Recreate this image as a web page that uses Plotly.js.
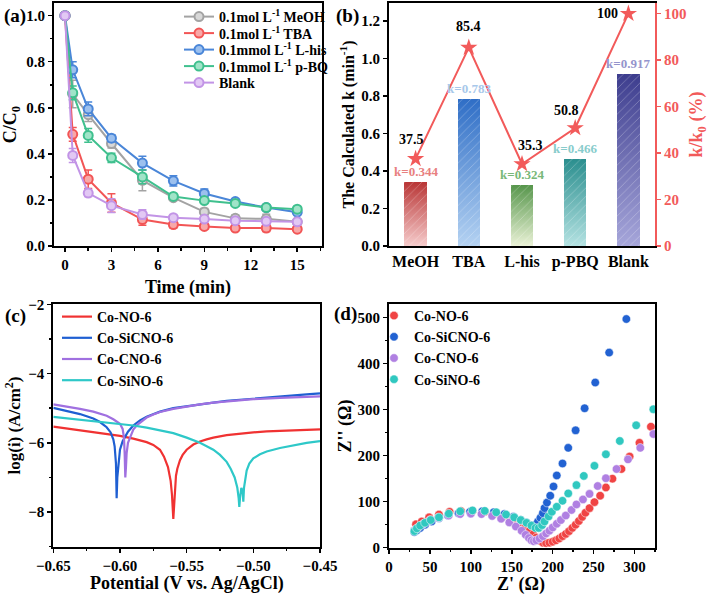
<!DOCTYPE html>
<html><head><meta charset="utf-8">
<script src="https://cdn.plot.ly/plotly-3.0.1.min.js"></script>
<style>html,body{margin:0;padding:0;background:#fff}#chart{width:709px;height:594px}</style>
</head><body><div id="chart"></div>
<script>
// ---------- Panel (a) data ----------
const timeMin = [0, 0.5, 1.5, 3, 5, 7, 9, 11, 13, 15];
const aNames = ['0.1mol L<sup>-1</sup> MeOH', '0.1mol L<sup>-1</sup> TBA', '0.1mmol L<sup>-1</sup> L-his', '0.1mmol L<sup>-1</sup> p-BQ', 'Blank'];
const cMeOH = [1.0, 0.66, 0.57, 0.445, 0.285, 0.21, 0.148, 0.12, 0.118, 0.105];
const eMeOH = [0, 0.06, 0.03, 0.02, 0.045, 0.01, 0.015, 0.015, 0.02, 0.01];
const cTBA = [1.0, 0.485, 0.29, 0.187, 0.115, 0.093, 0.085, 0.078, 0.078, 0.073];
const eTBA = [0, 0.03, 0.04, 0.04, 0.025, 0.015, 0.012, 0.01, 0.015, 0.01];
const cLhis = [1.0, 0.765, 0.595, 0.468, 0.36, 0.283, 0.228, 0.193, 0.167, 0.147];
const eLhis = [0, 0.035, 0.03, 0.015, 0.03, 0.022, 0.02, 0.01, 0.01, 0.01];
const cPBQ = [1.0, 0.665, 0.48, 0.383, 0.30, 0.215, 0.197, 0.185, 0.167, 0.16];
const ePBQ = [0, 0.03, 0.03, 0.02, 0.03, 0.01, 0.01, 0.01, 0.01, 0.01];
const cBlank = [1.0, 0.393, 0.23, 0.175, 0.137, 0.123, 0.117, 0.11, 0.107, 0.105];
const eBlank = [0, 0.03, 0.015, 0.03, 0.02, 0.01, 0.01, 0.01, 0.01, 0.01];
const aColors = ['#a3a3a3', '#f25555', '#4a86d8', '#3fc08e', '#c294e6'];
const aFill = ['#d8d8d8', '#f8a8a8', '#9cc0ee', '#a0e4c8', '#e2c8f4'];

// ---------- Panel (b) data ----------
const bCats = ['MeOH', 'TBA', 'L-his', 'p-PBQ', 'Blank'];
const kValues = [0.344, 0.783, 0.324, 0.466, 0.917];
const kRatio = [37.5, 85.4, 35.3, 50.8, 100];
const kLabels = ['k=0.344', 'k=0.783', 'k=0.324', 'k=0.466', 'k=0.917'];
const ratioLabels = ['37.5', '85.4', '35.3', '50.8', '100'];
const barTop = ['#b83434', '#2f6ec6', '#57964c', '#2a8e8e', '#3d3d8e'];
const barBottom = ['#f6cccc', '#b4d2f2', '#eaf2d6', '#b4e2e2', '#a6a6da'];
const barMid = ['#d87878', '#6f9edc', '#9cc48c', '#6cbaba', '#7070b8'];
const kLabelColors = ['#e88080', '#a8c8ea', '#78b878', '#88cccc', '#9494cc'];

// ---------- Panel (c) data ----------
const cNames = ['Co-NO-6', 'Co-SiCNO-6', 'Co-CNO-6', 'Co-SiNO-6'];
const cColors = ['#f03232', '#1f5fd2', '#a070e0', '#2ec8c8'];
const vNO = [-0.65,-0.64,-0.63,-0.62,-0.61,-0.60,-0.59,-0.58,-0.575,-0.57,-0.567,-0.564,-0.562,-0.561,-0.560,-0.5595,-0.559,-0.558,-0.557,-0.555,-0.553,-0.55,-0.545,-0.54,-0.535,-0.53,-0.52,-0.51,-0.50,-0.49,-0.48,-0.47,-0.46,-0.45];
const iNO = [-5.53,-5.58,-5.63,-5.68,-5.74,-5.80,-5.88,-5.98,-6.06,-6.2,-6.4,-6.7,-7.1,-7.5,-8.2,-7.8,-7.3,-6.95,-6.75,-6.5,-6.35,-6.2,-6.05,-5.96,-5.9,-5.85,-5.78,-5.73,-5.70,-5.67,-5.65,-5.63,-5.62,-5.61];
const vSiCNO = [-0.65,-0.64,-0.63,-0.62,-0.615,-0.61,-0.607,-0.605,-0.604,-0.603,-0.6025,-0.602,-0.601,-0.600,-0.598,-0.596,-0.594,-0.59,-0.585,-0.58,-0.57,-0.56,-0.55,-0.54,-0.53,-0.52,-0.50,-0.48,-0.46,-0.45];
const iSiCNO = [-4.99,-5.07,-5.17,-5.3,-5.4,-5.55,-5.7,-5.9,-6.1,-6.6,-7.6,-7.0,-6.5,-6.2,-5.95,-5.8,-5.68,-5.5,-5.35,-5.25,-5.1,-5.0,-4.94,-4.89,-4.84,-4.79,-4.72,-4.66,-4.6,-4.57];
const vCNO = [-0.65,-0.64,-0.63,-0.62,-0.61,-0.605,-0.60,-0.598,-0.597,-0.5965,-0.596,-0.5955,-0.595,-0.594,-0.592,-0.59,-0.587,-0.583,-0.58,-0.575,-0.57,-0.56,-0.55,-0.54,-0.53,-0.52,-0.50,-0.48,-0.46,-0.45];
const iCNO = [-4.89,-4.95,-5.02,-5.1,-5.22,-5.32,-5.45,-5.6,-5.85,-6.3,-7.0,-6.7,-6.3,-6.0,-5.78,-5.62,-5.48,-5.35,-5.27,-5.18,-5.11,-5.02,-4.95,-4.89,-4.84,-4.8,-4.74,-4.7,-4.67,-4.66];
const vSiNO = [-0.65,-0.64,-0.63,-0.62,-0.61,-0.60,-0.59,-0.58,-0.57,-0.56,-0.55,-0.54,-0.53,-0.525,-0.52,-0.517,-0.514,-0.512,-0.511,-0.5105,-0.51,-0.509,-0.508,-0.5075,-0.507,-0.506,-0.505,-0.503,-0.50,-0.495,-0.49,-0.48,-0.47,-0.46,-0.45];
const iSiNO = [-5.25,-5.29,-5.33,-5.37,-5.41,-5.45,-5.5,-5.56,-5.63,-5.72,-5.85,-6.0,-6.2,-6.35,-6.55,-6.75,-7.0,-7.3,-7.6,-7.85,-7.6,-7.3,-7.4,-7.7,-7.3,-7.0,-6.8,-6.6,-6.45,-6.33,-6.25,-6.15,-6.07,-6.0,-5.95];

// ---------- Panel (d) data ----------
const dColors = ['#f04444', '#2262d2', '#b080e2', '#30c8c0'];
const zreNO = [33,40,49,61,74,88,102,117,130,142,153,161,167,172,176,180,184,188,192,196,200,204,208,212,216,220,224,228,232,236,240,245,251,258,265,273,284,294,306,320];
const zimNO = [51,57,66,72,78,80,80,78,75,70,63,55,46,37,29,22,15,11,10,11,13,16,20,25,30,36,43,50,58,67,76,86,99,113,131,150,171,198,228,263];
const zreSiCNO = [31,34,38,44,52,61,72,85,99,114,128,141,152,161,168,174,177,179,182,185,188,190,193,197,201,205,212,219,228,239,252,269,290];
const zimSiCNO = [34,38,43,50,57,64,70,75,78,79,77,73,67,60,54,49,47,50,57,65,75,86,98,113,133,157,183,217,255,303,359,424,497];
const zreCNO = [31,35,42,50,60,73,87,100,113,126,137,147,155,162,167,171,174,177,180,184,188,192,196,200,205,210,216,223,229,237,245,255,265,278,292,307,323];
const zimCNO = [38,43,52,60,65,70,73,74,73,69,63,55,46,37,28,21,16,14,16,20,25,31,37,44,52,60,70,82,94,105,117,134,151,171,192,217,247];
const zreSiNO = [31,34,38,44,51,61,73,87,102,117,131,143,153,161,168,174,179,183,187,190,195,199,205,212,219,229,238,251,265,282,302,323];
const zimSiNO = [36,42,48,54,60,66,74,79,81,80,77,72,66,60,54,48,43,43,49,57,68,78,89,102,118,136,156,178,203,232,266,301];

// ---------- Build ----------
const F = '"Liberation Serif", "Times New Roman", serif';
const tf = (s, c) => ({family: F, size: s, weight: 'bold', color: c || '#000'});
const traces = [];

const aSeries = [[cMeOH, eMeOH], [cTBA, eTBA], [cLhis, eLhis], [cPBQ, ePBQ], [cBlank, eBlank]];
aSeries.forEach((s, i) => {
  traces.push({
    x: timeMin, y: s[0], name: aNames[i], type: 'scatter', mode: 'lines+markers',
    xaxis: 'x', yaxis: 'y', legend: 'legend',
    line: {color: aColors[i], width: 2},
    marker: {symbol: 'circle', size: 9, color: aFill[i], line: {color: aColors[i], width: 2}},
    error_y: {type: 'data', array: s[1], visible: true, color: aColors[i], thickness: 1.5, width: 4}
  });
});
traces.push({x: bCats, y: kValues, type: 'bar', xaxis: 'x2', yaxis: 'y2', width: 0.42,
  marker: {color: barMid, line: {width: 0}}, showlegend: false, hoverinfo: 'skip'});
traces.push({x: bCats, y: kValues, type: 'bar', xaxis: 'x2', yaxis: 'y2', width: 0.42,
  marker: {color: 'rgba(0,0,0,0)', line: {width: 0},
    pattern: {shape: '/', fgcolor: 'rgba(255,255,255,0.55)', bgcolor: 'rgba(0,0,0,0)', size: 6, solidity: 0.15, fillmode: 'overlay'}},
  showlegend: false});
traces.push({x: bCats, y: kRatio, type: 'scatter', mode: 'lines+markers', xaxis: 'x2', yaxis: 'y3',
  line: {color: '#f25a5a', width: 2}, marker: {symbol: 'star', size: 13, color: '#f25a5a'}, showlegend: false});

const cSeries = [[vNO, iNO], [vSiCNO, iSiCNO], [vCNO, iCNO], [vSiNO, iSiNO]];
cSeries.forEach((s, i) => {
  traces.push({x: s[0], y: s[1], name: cNames[i], type: 'scatter', mode: 'lines',
    xaxis: 'x4', yaxis: 'y4', legend: 'legend2', line: {color: cColors[i], width: 2.2}});
});
const dSeries = [[zreNO, zimNO], [zreSiCNO, zimSiCNO], [zreCNO, zimCNO], [zreSiNO, zimSiNO]];
dSeries.forEach((s, i) => {
  traces.push({x: s[0], y: s[1], name: cNames[i], type: 'scatter', mode: 'markers',
    xaxis: 'x5', yaxis: 'y5', legend: 'legend3',
    marker: {symbol: 'circle', size: 8.5, color: dColors[i], line: {color: 'rgba(255,255,255,0.5)', width: 1}}});
});

const ax = (extra) => Object.assign({
  showline: true, linewidth: 2, linecolor: '#000', mirror: true,
  ticks: 'outside', ticklen: 4, tickwidth: 1.5, tickcolor: '#000',
  showgrid: false, zeroline: false, tickfont: tf(15)
}, extra);
const mnr = (d) => ({ticks: 'outside', ticklen: 2.5, tickwidth: 1.5, tickcolor: '#000', dtick: d});

const dA = {x: [54/709, 322/709], y: [1 - 246/594, 1 - 3/594]};
const dB = {x: [389/709, 655/709], y: [1 - 246/594, 1 - 3/594]};
const dC = {x: [53.3/709, 320/709], y: [1 - 546.7/594, 1 - 304.3/594]};
const dD = {x: [389/709, 655/709], y: [1 - 547.7/594, 1 - 304.3/594]};

const annotations = [];
[['(a)', 2, 16], ['(b)', 334, 16], ['(c)', 3, 316], ['(d)', 332, 314]].forEach(p => {
  annotations.push({text: p[0], xref: 'paper', yref: 'paper', x: p[1]/709, y: 1 - p[2]/594,
    xanchor: 'left', yanchor: 'middle', showarrow: false, font: tf(19)});
});
// bottom-row x-axis titles
annotations.push({text: 'Potential (V vs. Ag/AgCl)', xref: 'paper', yref: 'paper', x: 187/709, y: 1 - 583/594,
  xanchor: 'center', yanchor: 'middle', showarrow: false, font: tf(18)});
annotations.push({text: "Z' (Ω)", xref: 'paper', yref: 'paper', x: 521/709, y: 1 - 584/594,
  xanchor: 'center', yanchor: 'middle', showarrow: false, font: tf(18)});
bCats.forEach((c, i) => {
  annotations.push({text: kLabels[i], xref: 'x2', yref: 'y2', x: c, y: kValues[i], yanchor: 'bottom',
    yshift: 1, showarrow: false, font: tf(13, kLabelColors[i])});
});
const rShift = [[-4, 10], [0, 12], [8, 9], [-9, 8], [-8, 0]];
bCats.forEach((c, i) => {
  const last = i === bCats.length - 1;
  annotations.push({text: ratioLabels[i], xref: 'x2', yref: 'y3', x: c, y: kRatio[i],
    xanchor: last ? 'right' : 'center', yanchor: last ? 'middle' : 'bottom',
    xshift: rShift[i][0], yshift: rShift[i][1], showarrow: false, font: tf(14)});
});

const legendBase = {bgcolor: 'rgba(0,0,0,0)', borderwidth: 0, font: tf(14), itemwidth: 30,
  xanchor: 'left', yanchor: 'top', tracegroupgap: 0, itemclick: false};

const layout = {
  width: 709, height: 594, margin: {l: 0, r: 0, t: 0, b: 0},
  paper_bgcolor: '#fff', plot_bgcolor: 'rgba(0,0,0,0)', showlegend: true,
  barmode: 'overlay', bargap: 0,
  font: {family: F, color: '#000'},
  xaxis: ax({domain: dA.x, anchor: 'y', range: [-0.71, 16.6], dtick: 3, tick0: 0, minor: mnr(1.5),
    title: {text: 'Time (min)', font: tf(18), standoff: 8}}),
  yaxis: ax({domain: dA.y, anchor: 'x', range: [0, 1.055], dtick: 0.2, tickformat: '.1f', minor: mnr(0.1),
    title: {text: 'C/C<sub>0</sub>', font: tf(18), standoff: 6}}),
  xaxis2: ax({domain: dB.x, anchor: 'y2', range: [-0.5, 4.5], ticks: '', type: 'category', tickfont: tf(16)}),
  yaxis2: ax({domain: dB.y, anchor: 'x2', range: [0, 1.297], dtick: 0.2, tickformat: '.1f', mirror: false,
    title: {text: 'The Calculated k (min<sup>-1</sup>)', font: tf(16), standoff: 3}}),
  yaxis3: ax({overlaying: 'y2', side: 'right', anchor: 'x2', range: [0, 104.6], dtick: 20, mirror: false,
    linecolor: '#f25a5a', tickcolor: '#f25a5a', tickfont: tf(15, '#f25a5a'),
    title: {text: 'k/k<sub>0</sub> (%)', font: tf(18, '#f25a5a'), standoff: 5}}),
  xaxis4: ax({domain: dC.x, anchor: 'y4', range: [-0.65, -0.45], dtick: 0.05, tick0: -0.65, tickformat: '.2f', minor: mnr(0.025)}),
  yaxis4: ax({domain: dC.y, anchor: 'x4', range: [-9, -2], dtick: 2, tick0: -2, minor: mnr(1),
    title: {text: 'log(i) (A/cm<sup>2</sup>)', font: tf(17), standoff: 3}}),
  xaxis5: ax({domain: dD.x, anchor: 'y5', range: [0, 325], dtick: 50, tick0: 0, minor: mnr(25)}),
  yaxis5: ax({domain: dD.y, anchor: 'x5', range: [0, 529], dtick: 100, tick0: 0, minor: mnr(50),
    title: {text: "Z'' (Ω)", font: tf(18), standoff: 1}}),
  legend: Object.assign({}, legendBase, {x: 179/709, y: 1 - 1/594}),
  legend2: Object.assign({}, legendBase, {x: 57/709, y: 1 - 301/594}),
  legend3: Object.assign({}, legendBase, {x: 374/709, y: 1 - 300/594}),
  annotations: annotations
};

Plotly.newPlot('chart', traces, layout, {staticPlot: true, displayModeBar: false}).then(gd => {
  const svg = gd.querySelector('svg.main-svg');
  const NS = 'http://www.w3.org/2000/svg';
  let defs = svg.querySelector('defs');
  if (!defs) { defs = document.createElementNS(NS, 'defs'); svg.insertBefore(defs, svg.firstChild); }
  barTop.forEach((c, i) => {
    const g = document.createElementNS(NS, 'linearGradient');
    g.setAttribute('id', 'barGrad' + i);
    g.setAttribute('x1', '0'); g.setAttribute('y1', '0'); g.setAttribute('x2', '0'); g.setAttribute('y2', '1');
    const s1 = document.createElementNS(NS, 'stop'); s1.setAttribute('offset', '0'); s1.setAttribute('stop-color', c);
    const s2 = document.createElementNS(NS, 'stop'); s2.setAttribute('offset', '1'); s2.setAttribute('stop-color', barBottom[i]);
    g.appendChild(s1); g.appendChild(s2); defs.appendChild(g);
  });
  const barTraces = gd.querySelectorAll('.barlayer .trace');
  if (barTraces.length) {
    barTraces[0].querySelectorAll('.point path').forEach((p, i) => {
      p.style.fill = 'url(#barGrad' + i + ')';
    });
  }
  // tighten legend row spacing to match the reference
  const spacing = {legend: 16.5, legend2: 16, legend3: 16};
  gd.querySelectorAll('g.legend').forEach(lg => {
    const cls = Array.from(lg.classList).find(c => c.startsWith('legend') && spacing[c]) || 'legend';
    const sp = spacing[cls] || 16;
    const items = lg.querySelectorAll('g.traces');
    let y0 = null;
    items.forEach((it, i) => {
      const m = /translate\(([-\d.]+)\s*,\s*([-\d.]+)\)/.exec(it.getAttribute('transform') || '');
      if (!m) return;
      if (y0 === null) y0 = parseFloat(m[2]);
      it.setAttribute('transform', 'translate(' + m[1] + ',' + (y0 + i * sp) + ')');
    });
  });
});
</script>
</body></html>
